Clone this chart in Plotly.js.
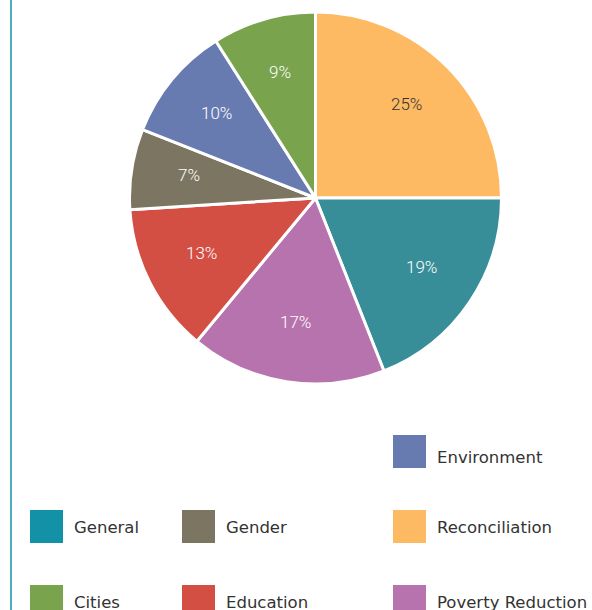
<!DOCTYPE html>
<html><head><meta charset="utf-8">
<script src="https://cdn.plot.ly/plotly-3.0.1.min.js"></script>
<style>html,body{margin:0;padding:0;background:#fff}#chart{width:592px;height:610px}</style>
</head><body><div id="chart"></div>
<script>
// Data
const categories = ['Reconciliation','General','Poverty Reduction','Education','Gender','Environment','Cities'];
const shares = [25, 19, 17, 13, 7, 10, 9];
const sliceColors = ['#FDBA63','#378E98','#B773AD','#D34E43','#7C7562','#677BB0','#79A34C'];
const labelColors = ['#333333','#ffffff','#ffffff','#ffffff','#ffffff','#ffffff','#ffffff'];
// Legend order (grid, 3 columns, first two slots empty)
const legendOrder = ['Environment','General','Gender','Reconciliation','Cities','Education','Poverty Reduction'];
const legendSwatch = {'Environment':'#677BB0','General':'#1391A7','Gender':'#7C7562','Reconciliation':'#FDBA63','Cities':'#79A34C','Education':'#D34E43','Poverty Reduction':'#B773AD'};

const W = 592, H = 610;
const colX = [30, 182, 393];
const rowY = [435, 510, 585];
const rowTextOffset = [22, 17, 17];
const sw = 33;
const cx = 315.5, cy = 198, R = 186, labelR = 0.69;

const shapes = [{type:'line', xref:'paper', yref:'paper', x0:11/W, x1:11/W, y0:0, y1:1, line:{color:'#1391A7', width:1.5}}];
const annotations = [];
legendOrder.forEach((name, i) => {
  const slot = i + 2;
  const c = slot % 3, r = Math.floor(slot / 3);
  const x = colX[c], y = rowY[r];
  shapes.push({type:'rect', xref:'paper', yref:'paper', x0:x/W, x1:(x+sw)/W, y0:1-y/H, y1:1-(y+sw)/H, fillcolor:legendSwatch[name], line:{width:0}});
  annotations.push({xref:'paper', yref:'paper', x:(x+sw+9)/W, y:1-(y+rowTextOffset[r])/H, xanchor:'left', yanchor:'middle', text:name, showarrow:false, font:{family:'DejaVu Sans, sans-serif', size:16.5, color:'#333333'}});
});

// slice labels at mid-angle of each slice
const total = shares.reduce((a,b)=>a+b,0);
let cum = 0;
shares.forEach((v, i) => {
  const mid = (cum + v/2) / total * 2 * Math.PI;
  cum += v;
  const px = cx + labelR*R*Math.sin(mid);
  const py = cy - labelR*R*Math.cos(mid) - 3;
  annotations.push({xref:'paper', yref:'paper', x:px/W, y:1-py/H, xanchor:'center', yanchor:'middle', text:v+'%', showarrow:false, font:{family:'Roboto, sans-serif', size:17, weight:300, color:labelColors[i]}});
});

const trace = {
  type:'pie', labels:categories, values:shares, sort:false, direction:'clockwise', rotation:0,
  marker:{colors:sliceColors, line:{color:'#ffffff', width:3}},
  textinfo:'none',
  hoverinfo:'label+percent',
  domain:{x:[(cx-R)/W, (cx+R)/W], y:[1-(cy+R)/H, 1-(cy-R)/H]}
};

Plotly.newPlot('chart', [trace], {
  width:W, height:H, margin:{l:0,r:0,t:0,b:0}, showlegend:false,
  paper_bgcolor:'#ffffff', shapes, annotations
}, {displayModeBar:false});
</script></body></html>
